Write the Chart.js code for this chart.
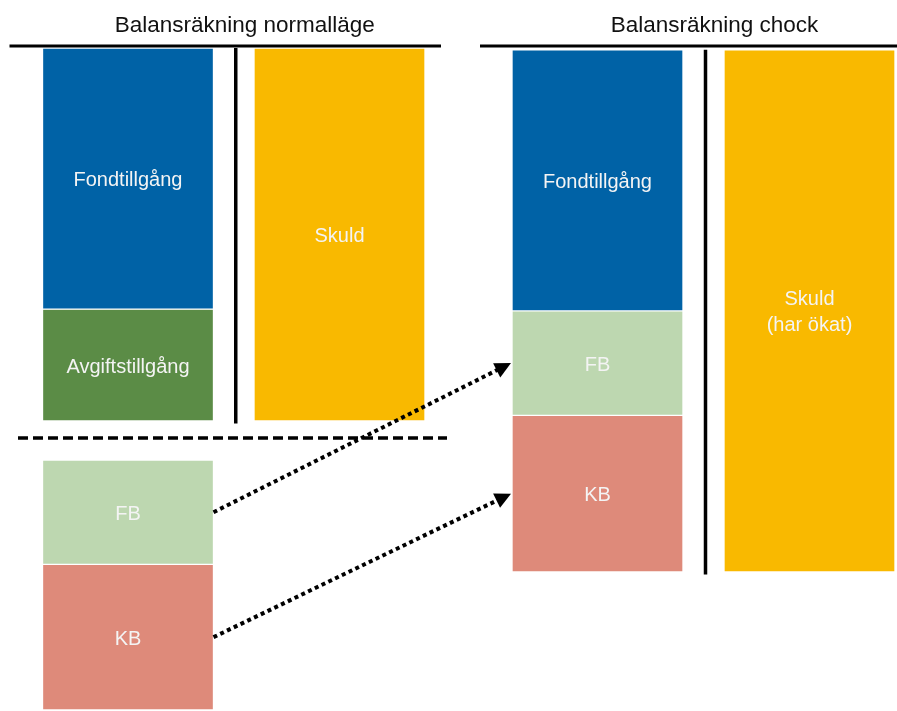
<!DOCTYPE html>
<html>
<head>
<meta charset="utf-8">
<script src="https://cdn.jsdelivr.net/npm/chart.js@4.4.1/dist/chart.umd.min.js"></script>
<style>
  html, body { margin: 0; padding: 0; background: #fff; overflow: hidden; }
</style>
</head>
<body>
<canvas id="balans" width="897" height="711"></canvas>
<script>
// --- data ---
const rubriker = ['Balansräkning normalläge', 'Balansräkning chock'];
const normalTillgangar = ['Fondtillgång', 'Avgiftstillgång'];
const normalTillgangarVarden = [70, 30];
const normalSkuldVarde = [100];
const utanforBalans = ['FB', 'KB'];
const utanforBalansVarden = [28, 39];
const chockTillgangar = ['Fondtillgång', 'FB', 'KB'];
const chockTillgangarVarden = [70, 28, 42];
const chockSkuldVarde = [140];
const skuldEtiketter = [['Skuld'], ['Skuld', '(har ökat)']];

// --- layout ---
const W = 897, H = 711;
const k = 3.73;                 // px per enhet
const nollL = 421, nollR = 572; // nollnivå i px för vänster/höger balansräkning
const kolumnX = [128, 339.5, 597.5, 809.5];
const stapelBredd = 171;
const avstandUnder = 39 / k;    // glapp under streckade linjen

const farger = {
  'Fondtillgång': '#0062a6',
  'Avgiftstillgång': '#5b8c46',
  'FB': '#bdd7b0',
  'KB': '#de8a7a',
  'Skuld': '#f9b900'
};

const boxar = [];
function stapla(namn, varden, kol, axel, topp) {
  let t = topp;
  namn.forEach((n, i) => {
    boxar.push({ namn: n, etikett: [n], kol, axel, y: [t - varden[i], t] });
    t -= varden[i];
  });
}
const summa = a => a.reduce((s, v) => s + v, 0);

stapla(normalTillgangar, normalTillgangarVarden, 0, 'yL', summa(normalTillgangarVarden));
stapla(utanforBalans, utanforBalansVarden, 0, 'yL', -avstandUnder);
boxar.push({ namn: 'Skuld', etikett: skuldEtiketter[0], kol: 1, axel: 'yL', y: [0, normalSkuldVarde[0]] });
stapla(chockTillgangar, chockTillgangarVarden, 2, 'yR', summa(chockTillgangarVarden));
boxar.push({ namn: 'Skuld', etikett: skuldEtiketter[1], kol: 3, axel: 'yR', y: [0, chockSkuldVarde[0]] });

const datasets = boxar.map(b => ({
  label: b.namn,
  etikett: b.etikett,
  data: [{ x: kolumnX[b.kol], y: b.y }],
  yAxisID: b.axel,
  backgroundColor: farger[b.namn],
  borderColor: '#ffffff',
  borderWidth: 1,
  borderSkipped: false,
  barThickness: stapelBredd,
  grouped: false
}));

const textFont = '"Liberation Sans", Arial, sans-serif';

const etikettPlugin = {
  id: 'etiketter',
  afterDatasetsDraw(chart) {
    const ctx = chart.ctx;
    ctx.save();
    ctx.fillStyle = '#f4f4f4';
    ctx.font = '20px ' + textFont;
    ctx.textAlign = 'center';
    ctx.textBaseline = 'middle';
    chart.data.datasets.forEach((ds, i) => {
      const el = chart.getDatasetMeta(i).data[0];
      const cy = (el.y + el.base) / 2 + 2;
      const rader = ds.etikett;
      rader.forEach((r, j) => {
        ctx.fillText(r, el.x, cy + (j - (rader.length - 1) / 2) * 26);
      });
    });
    ctx.restore();
  }
};

function hittaBox(namn, kol) {
  return boxar.findIndex(b => b.namn === namn && b.kol === kol);
}

function pil(ctx, x1, y1, x2, y2) {
  const vinkel = Math.atan2(y2 - y1, x2 - x1);
  const langd = 16, bredd = 8;
  const ex = x2 - Math.cos(vinkel) * (langd - 2);
  const ey = y2 - Math.sin(vinkel) * (langd - 2);
  ctx.save();
  ctx.strokeStyle = '#000';
  ctx.lineWidth = 4;
  ctx.setLineDash([4, 3.5]);
  ctx.beginPath();
  ctx.moveTo(x1, y1);
  ctx.lineTo(ex, ey);
  ctx.stroke();
  ctx.setLineDash([]);
  ctx.fillStyle = '#000';
  ctx.beginPath();
  ctx.moveTo(x2, y2);
  ctx.lineTo(x2 - langd * Math.cos(vinkel) + bredd * Math.sin(vinkel), y2 - langd * Math.sin(vinkel) - bredd * Math.cos(vinkel));
  ctx.lineTo(x2 - langd * Math.cos(vinkel) - bredd * Math.sin(vinkel), y2 - langd * Math.sin(vinkel) + bredd * Math.cos(vinkel));
  ctx.closePath();
  ctx.fill();
  ctx.restore();
}

const dekorPlugin = {
  id: 'dekor',
  afterDatasetsDraw(chart) {
    const ctx = chart.ctx;
    const x = chart.scales.x;
    const yL = chart.scales.yL, yR = chart.scales.yR;
    const halv = stapelBredd / 2;
    ctx.save();

    // rubriker och linjer
    const paneler = [
      { a: 0, b: 1, y: yL, topp: normalSkuldVarde[0], start: -33, slut: 16 },
      { a: 2, b: 3, y: yR, topp: chockSkuldVarde[0], start: -32, slut: 20 }
    ];
    paneler.forEach((p, i) => {
      const vanster = x.getPixelForValue(kolumnX[p.a]) - halv;
      const hoger = x.getPixelForValue(kolumnX[p.b]) + halv;
      const mitt = (x.getPixelForValue(kolumnX[p.a]) + halv + x.getPixelForValue(kolumnX[p.b]) - halv) / 2 + 2;
      ctx.fillStyle = '#111';
      ctx.font = '22.5px ' + textFont;
      ctx.textAlign = 'center';
      ctx.textBaseline = 'middle';
      ctx.fillText(rubriker[i], mitt + 9, 26);
      ctx.strokeStyle = '#000';
      ctx.lineWidth = 3;
      ctx.beginPath();
      ctx.moveTo(vanster + p.start, 46);
      ctx.lineTo(Math.min(hoger + p.slut, W), 46);
      ctx.stroke();
      // lodrät avdelare
      ctx.lineWidth = 3.5;
      ctx.beginPath();
      ctx.moveTo(mitt, p.y.getPixelForValue(p.topp));
      ctx.lineTo(mitt, p.y.getPixelForValue(0) + 2.5);
      ctx.stroke();
    });

    // streckad linje under normalbalansen
    const yStreck = yL.getPixelForValue(0) + 17;
    ctx.lineWidth = 3.5;
    ctx.setLineDash([10, 5]);
    ctx.beginPath();
    ctx.moveTo(18, yStreck);
    ctx.lineTo(x.getPixelForValue(kolumnX[1]) + halv + 22, yStreck);
    ctx.stroke();
    ctx.setLineDash([]);
    ctx.restore();

    // pilar från FB/KB utanför balansen till chockbalansen
    utanforBalans.forEach(n => {
      const fran = chart.getDatasetMeta(hittaBox(n, 0)).data[0];
      const till = chart.getDatasetMeta(hittaBox(n, 2)).data[0];
      pil(ctx, fran.x + halv, (fran.y + fran.base) / 2, till.x - halv - 1, (till.y + till.base) / 2);
    });
  }
};

new Chart(document.getElementById('balans'), {
  type: 'bar',
  data: { datasets },
  options: {
    responsive: false,
    animation: false,
    devicePixelRatio: 1,
    layout: { padding: 0 },
    plugins: {
      legend: { display: false },
      tooltip: { enabled: false },
      title: { display: false }
    },
    scales: {
      x: { type: 'linear', min: 0, max: W, offset: false, display: false },
      yL: { type: 'linear', min: -(H - nollL) / k, max: nollL / k, display: false },
      yR: { type: 'linear', min: -(H - nollR) / k, max: nollR / k, display: false }
    }
  },
  plugins: [etikettPlugin, dekorPlugin]
});
</script>
</body>
</html>
